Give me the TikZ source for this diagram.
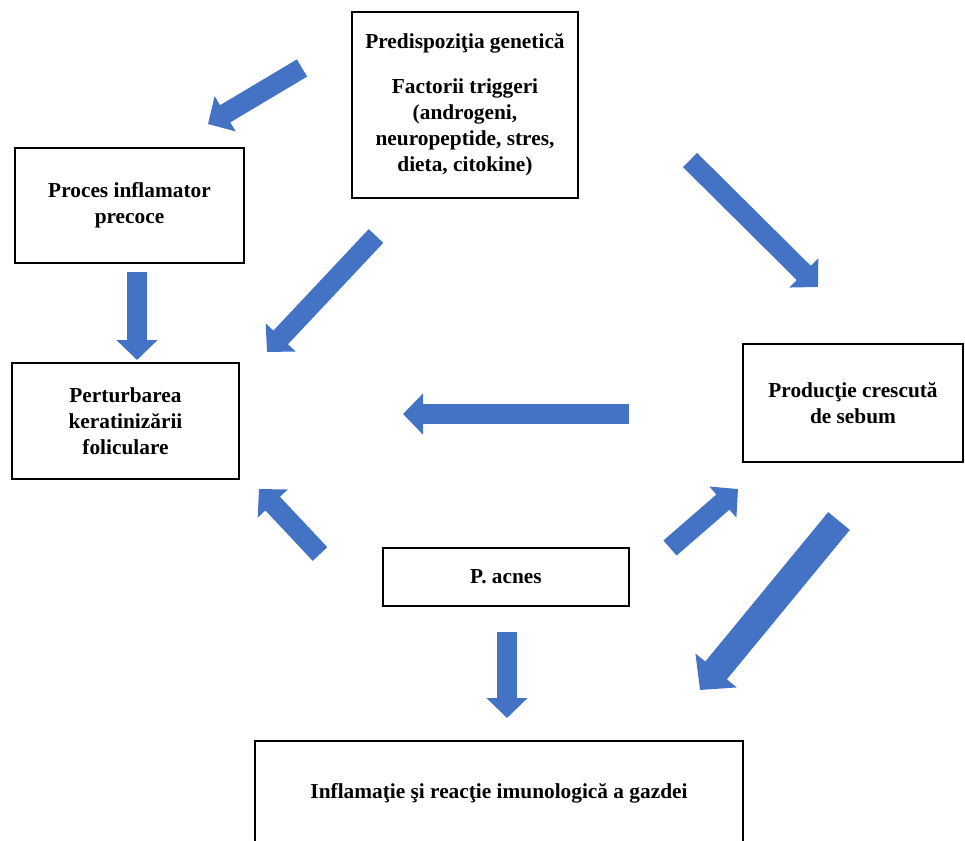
\documentclass[tikz,border=0pt]{standalone}
\usepackage{fontspec}
\setmainfont{Liberation Serif}
\usetikzlibrary{arrows.meta}

\tikzset{
	boxtext/.style={font=\bfseries\fontsize{16}{19.5}\selectfont},
	box/.style={draw, line width=2pt, align=center, inner sep=0pt, boxtext},
	blockarrow/.style={draw={rgb, 255:red, 68; green, 114; blue, 196 }, line width=15pt,
		-{Triangle[length=15pt, width=30pt]}},
	bigblockarrow/.style={blockarrow, line width=21pt,
		-{Triangle[length=19pt, width=39pt]}}}
\tikzset{every picture/.style={line width=0.75pt}}

\begin{document}
\begin{tikzpicture}[x=0.75pt,y=0.75pt,yscale=-1,xscale=1]
	\useasboundingbox (0,0) rectangle (965,840);

	%Shape: Rectangle [predispozitie]
	\node [box, minimum width=169.5pt, minimum height=139.5pt] (predispozitie) at (465,105)
		{Predispoziţia genetică\\[14pt] Factorii triggeri\\ (androgeni,\\ neuropeptide, stres,\\ dieta, citokine)};
	%Shape: Rectangle [proces]
	\node [box, minimum width=171.75pt, minimum height=86.25pt] (proces) at (129.5,205.5)
		{Proces inflamator\\ precoce};
	%Shape: Rectangle [perturbare]
	\node [box, minimum width=170.25pt, minimum height=87pt] (perturbare) at (125.5,421)
		{Perturbarea\\ keratinizării\\ foliculare};
	%Shape: Rectangle [sebum]
	\node [box, minimum width=165pt, minimum height=88.5pt] (sebum) at (853,403)
		{Producţie crescută\\ de sebum};
	%Shape: Rectangle [pacnes]
	\node [box, minimum width=184.5pt, minimum height=43.5pt] (pacnes) at (506,577)
		{P. acnes};
	%Shape: Rectangle [inflamatie]
	\node [box, minimum width=366pt, minimum height=78pt] (inflamatie) at (499,793)
		{Inflamaţie şi reacţie imunologică a gazdei};

	%Block Arrows: ends
	\coordinate (topLeftS) at (302,68);      \coordinate (topLeftE) at (208,124);
	\coordinate (procesS) at (137,272);      \coordinate (procesE) at (137,360);
	\coordinate (topPertS) at (376,236);     \coordinate (topPertE) at (267,352);
	\coordinate (topSebumS) at (690,160);    \coordinate (topSebumE) at (818,287);
	\coordinate (sebumPertS) at (629,414);   \coordinate (sebumPertE) at (403,414);
	\coordinate (acnesPertS) at (320,554);   \coordinate (acnesPertE) at (259,489);
	\coordinate (acnesSebumS) at (670,548);  \coordinate (acnesSebumE) at (738,489);
	\coordinate (sebumInflS) at (839,521);   \coordinate (sebumInflE) at (700,690);
	\coordinate (acnesInflS) at (507,632);   \coordinate (acnesInflE) at (507,718);

	%Block Arrows
	\draw [blockarrow] (topLeftS) -- (topLeftE);
	\draw [blockarrow] (procesS) -- (procesE);
	\draw [blockarrow] (topPertS) -- (topPertE);
	\draw [blockarrow] (topSebumS) -- (topSebumE);
	\draw [blockarrow] (sebumPertS) -- (sebumPertE);
	\draw [blockarrow] (acnesPertS) -- (acnesPertE);
	\draw [blockarrow] (acnesSebumS) -- (acnesSebumE);
	\draw [bigblockarrow] (sebumInflS) -- (sebumInflE);
	\draw [blockarrow] (acnesInflS) -- (acnesInflE);

\end{tikzpicture}
\end{document}
